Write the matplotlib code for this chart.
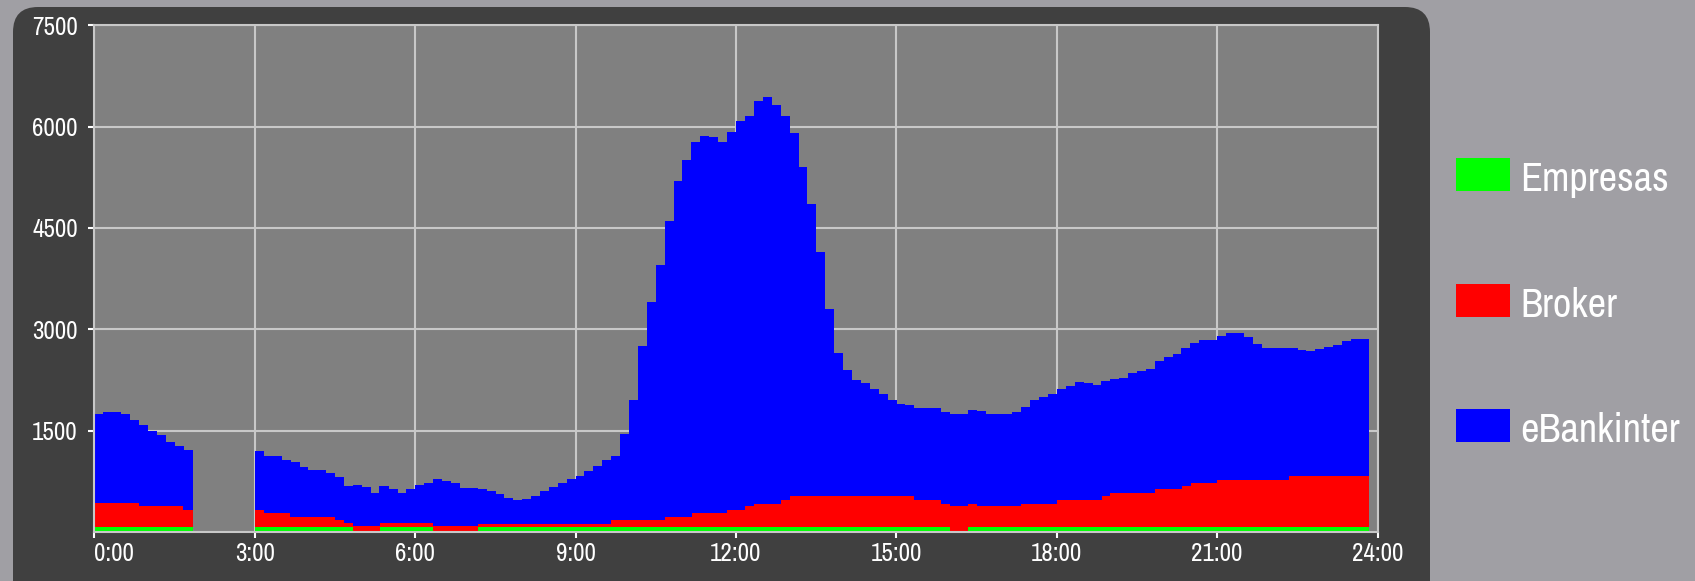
import numpy as np
import matplotlib
matplotlib.use("Agg")
import matplotlib.pyplot as plt
from matplotlib import font_manager
from matplotlib.patches import FancyBboxPatch, Rectangle

nan = np.nan

# --- series values, one per 10-minute slot (rows = 2 hours) ---
ebankinter = [
    1320, 1350, 1350, 1320, 1230, 1210, 1120, 1060, 950, 890, 895, nan,
    nan, nan, nan, nan, nan, nan, 875, 845, 845, 785, 805, 735,
    700, 700, 655, 645, 545, 615, 585, 495, 545, 495, 445, 505,
    555, 595, 695, 675, 635, 565, 565, 515, 475, 435, 385, 355,
    365, 405, 475, 545, 595, 655, 705, 785, 855, 935, 945, 1275,
    1775, 2575, 3225, 3775, 4375, 4975, 5275, 5505, 5585, 5575, 5505, 5595,
    5755, 5780, 5960, 6020, 5900, 5690, 5370, 4870, 4320, 3620, 2770, 2120,
    1870, 1720, 1670, 1590, 1510, 1430, 1370, 1350, 1370, 1370, 1360, 1350,
    1355, 1355, 1390, 1410, 1365, 1365, 1365, 1390, 1430, 1540, 1580, 1620,
    1640, 1690, 1750, 1730, 1700, 1710, 1680, 1700, 1780, 1810, 1830, 1900,
    1960, 2010, 2050, 2070, 2110, 2110, 2130, 2180, 2170, 2110, 2010, 1960,
    1950, 1950, 1890, 1870, 1850, 1880, 1910, 1940, 1990, 2020, 2020, nan,
]
broker = [
    350, 350, 350, 350, 350, 300, 300, 300, 300, 300, 245, nan,
    nan, nan, nan, nan, nan, nan, 245, 195, 195, 195, 145, 145,
    145, 145, 145, 95, 55, 85, 85, 85, 55, 55, 55, 55,
    55, 55, 85, 85, 85, 85, 85, 45, 45, 45, 45, 45,
    45, 45, 45, 45, 45, 45, 45, 45, 45, 45, 95, 95,
    95, 95, 95, 95, 145, 145, 145, 195, 195, 195, 195, 245,
    245, 300, 340, 340, 340, 390, 450, 450, 450, 450, 450, 450,
    450, 450, 450, 450, 450, 450, 450, 450, 390, 390, 390, 340,
    390, 390, 340, 300, 300, 300, 300, 300, 340, 340, 340, 340,
    390, 390, 390, 390, 390, 450, 500, 500, 500, 500, 500, 550,
    550, 550, 600, 650, 650, 650, 690, 690, 690, 690, 690, 690,
    690, 690, 750, 750, 750, 750, 750, 750, 750, 750, 750, nan,
]
empresas = [
    80, 80, 80, 80, 80, 80, 80, 80, 80, 80, 80, nan,
    nan, nan, nan, nan, nan, nan, 80, 80, 80, 80, 80, 80,
    80, 80, 80, 80, 80, 0, 0, 0, 80, 80, 80, 80,
    80, 80, 0, 0, 0, 0, 0, 80, 80, 80, 80, 80,
    80, 80, 80, 80, 80, 80, 80, 80, 80, 80, 80, 80,
    80, 80, 80, 80, 80, 80, 80, 80, 80, 80, 80, 80,
    80, 80, 80, 80, 80, 80, 80, 80, 80, 80, 80, 80,
    80, 80, 80, 80, 80, 80, 80, 80, 80, 80, 80, 80,
    0, 0, 80, 80, 80, 80, 80, 80, 80, 80, 80, 80,
    80, 80, 80, 80, 80, 80, 80, 80, 80, 80, 80, 80,
    80, 80, 80, 80, 80, 80, 80, 80, 80, 80, 80, 80,
    80, 80, 80, 80, 80, 80, 80, 80, 80, 80, 80, nan,
]
labels = ["Empresas", "Broker", "eBankinter"]
colors = ["#00ff00", "#ff0000", "#0000ff"]
hour_ticks = [0, 3, 6, 9, 12, 15, 18, 21, 24]
hour_labels = ["0:00", "3:00", "6:00", "9:00", "12:00", "15:00", "18:00", "21:00", "24:00"]
y_ticks = [1500, 3000, 4500, 6000, 7500]

# narrow font if there is one, else the default
installed = {f.name for f in font_manager.fontManager.ttflist}
narrow = [n for n in ["Liberation Sans Narrow", "Archivo Narrow", "Roboto Condensed",
                      "Barlow Condensed", "Asap Condensed"] if n in installed]
plt.rcParams["font.family"] = narrow[:1] + ["DejaVu Sans"]

slot = 1 / 6  # 10 minutes, in hours
t = np.arange(len(ebankinter)) * slot
emp = np.array(empresas, dtype=float)
brk = np.array(broker, dtype=float)
ebk = np.array(ebankinter, dtype=float)

fig = plt.figure(figsize=(16.95, 5.81), dpi=100, facecolor="#a09fa4")
renderer = fig.canvas.get_renderer()


def fit_size(text, width_px, max_size):
    probe = fig.text(0, 0, text, fontsize=max_size)
    w = probe.get_window_extent(renderer).width
    probe.remove()
    return min(max_size, max_size * width_px / w)


tick_fs = fit_size("7500", 50, 18)
leg_fs = fit_size("Empresas", 153, 29)

# dark rounded panel behind the plot
panel = FancyBboxPatch((0.13, -0.3), 14.17, 6.04,
                       boxstyle="round,pad=0,rounding_size=0.25",
                       transform=fig.dpi_scale_trans, facecolor="#404040",
                       edgecolor="none", zorder=-1)
fig.add_artist(panel)

ax = fig.add_axes([94.3 / 1695, 1 - 532 / 581, (1377.5 - 94.3) / 1695, (532 - 25.3) / 581])
ax.set_facecolor("#808080")

# bars a hair wider than the slot so no seams show between them
kw = dict(width=slot * 1.03, align="edge", linewidth=0, antialiased=False)
ax.bar(t, emp, color=colors[0], **kw)
ax.bar(t, brk, bottom=emp, color=colors[1], **kw)
ax.bar(t, ebk, bottom=emp + brk, color=colors[2], **kw)

ax.set_xlim(0, 24)
ax.set_ylim(0, 7500)
ax.set_xticks(hour_ticks)
ax.set_xticklabels(hour_labels)
ax.set_yticks(y_ticks)
ax.set_axisbelow(True)
ax.grid(True, color="#c8c8c8", linewidth=1.5)
for s in ax.spines.values():
    s.set_color("#c8c8c8")
    s.set_linewidth(1.5)
ax.tick_params(axis="both", colors="white", labelcolor="white", labelsize=tick_fs,
               length=4.5, width=1.5)
ax.tick_params(axis="y", pad=7.5)
ax.tick_params(axis="x", pad=3)
ax.get_xticklabels()[0].set_horizontalalignment("left")

# legend drawn to the right of the panel
box_y = [191, 317, 442]
for lab, col, yb in zip(labels, colors, box_y):
    fig.add_artist(Rectangle((14.56, (581 - yb) / 100), 0.54, 0.33,
                             transform=fig.dpi_scale_trans, facecolor=col,
                             edgecolor="none"))
    fig.text(15.20, (581 - yb) / 100, lab, transform=fig.dpi_scale_trans,
             color="white", fontsize=leg_fs, va="baseline", ha="left")

fig.savefig("out.png", dpi=100, facecolor=fig.get_facecolor())
